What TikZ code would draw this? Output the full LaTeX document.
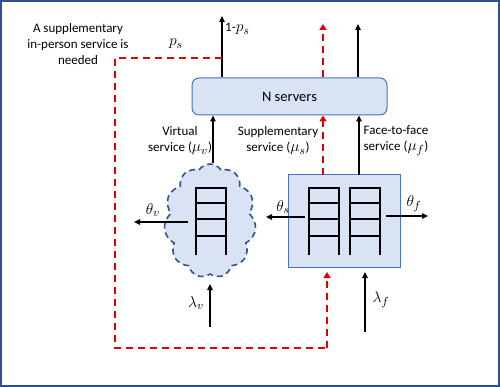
\documentclass[tikz,border=0pt]{standalone}
\usepackage{fontspec}
\setmainfont{Carlito}
\usetikzlibrary{arrows.meta,shapes.symbols}
\definecolor{boxfill}{HTML}{DAE3F3}
\definecolor{boxline}{HTML}{4472C4}
\definecolor{frameblue}{HTML}{2F528F}
\definecolor{cloudline}{HTML}{2F5597}
\definecolor{fbred}{HTML}{E00000}
\newcommand{\mbig}[1]{\scalebox{1.3}{$#1$}}
\tikzset{
  arr/.style={line width=1.3pt,-{Triangle[width=5.5pt,length=6pt]}},
  redarr/.style={line width=2pt,fbred,dash pattern=on 7pt off 5pt,-{Triangle[width=7pt,length=6pt]}},
  redline/.style={line width=2pt,fbred,dash pattern=on 7pt off 5pt},
  serverbox/.style={draw=boxline,fill=boxfill,line width=1pt,rounded corners=7pt,minimum width=195pt,minimum height=37pt,inner sep=0pt,font=\fontsize{14.5}{17}\selectfont},
  sqbox/.style={draw=boxline,fill=boxfill,line width=1pt,minimum width=112pt,minimum height=92pt,inner sep=0pt},
  cloudq/.style={cloud,cloud puffs=11,cloud puff arc=115,draw=cloudline,fill=boxfill,line width=1.6pt,dash pattern=on 6pt off 4pt,minimum width=92pt,minimum height=114pt,inner sep=0pt,aspect=0.8},
  lbl/.style={font=\fontsize{13}{16}\selectfont,align=center,inner sep=0pt},
  mlbl/.style={font=\fontsize{13}{16}\selectfont,inner sep=0pt},
  queue/.pic={\draw[line width=1.8pt] (0,67) -- (0,0) -- (30,0) -- (30,67);
    \draw[line width=1.8pt] (0,15) -- (30,15) (0,31) -- (30,31) (0,48) -- (30,48);}
}
\begin{document}
\begin{tikzpicture}[x=1pt,y=-1pt]
\useasboundingbox (0,0) rectangle (500,387);
\draw[frameblue,line width=2pt] (1,1) rectangle (499,386);

% shapes
\node[serverbox] (srv) at (289.5,96.5) {N servers};
\node[sqbox] (sq) at (344,221) {};
\node[cloudq] (cl) at (210,221) {};

% queues
\pic at (196,188) {queue};
\pic at (309,188) {queue};
\pic at (350,188) {queue};

% coordinates
\coordinate (o1) at (222,16);
\coordinate (o2) at (323,24);
\coordinate (o3) at (358,24);
\coordinate (vin) at (213,163);
\coordinate (sin) at (323,175);
\coordinate (fin) at (359,175);
\coordinate (r1) at (115,58);
\coordinate (r2) at (115,348);
\coordinate (r3) at (327,348);
\coordinate (r4) at (327,272);
\coordinate (lv0) at (210,327);
\coordinate (lv1) at (210,284);
\coordinate (lf0) at (365,332);
\coordinate (lf1) at (365,272);
\coordinate (tv0) at (188,222);
\coordinate (tv1) at (134,222);
\coordinate (ts0) at (305,217);
\coordinate (ts1) at (266,217);
\coordinate (tf0) at (386,216);
\coordinate (tf1) at (428,216);

% outputs of servers
\draw[arr] (srv.north -| o1) -- (o1);
\draw[redarr] (srv.north -| o2) -- (o2);
\draw[arr] (srv.north -| o3) -- (o3);

% inputs of servers
\draw[arr] (vin) -- (vin |- srv.south);
\draw[redarr] (sin) -- (sin |- srv.south);
\draw[arr] (fin) -- (fin |- srv.south);

% feedback loop
\draw[redline] (r1 -| o1) -- (r1) -- (r2) -- (r3);
\draw[redarr] (r3) -- (r4);

% arrivals and abandonment
\draw[arr] (lv0) -- (lv1);
\draw[arr] (lf0) -- (lf1);
\draw[arr] (tv0) -- (tv1);
\draw[arr] (ts0) -- (ts1);
\draw[arr] (tf0) -- (tf1);

% labels
\node[lbl] (ltxt) at (78,44) {A supplementary\\in-person service is\\needed};
\node[mlbl] (lps) at (176,44) {\mbig{p_s}};
\node[mlbl,anchor=west] (l1ps) at (225,29) {1-\mbig{p_s}};
\node[lbl] (lvs) at (180,141) {Virtual\\service (\mbig{\mu_v})};
\node[lbl] (lss) at (278,141) {Supplementary\\service (\mbig{\mu_s})};
\node[lbl] (lfs) at (396,141) {Face-to-face\\service (\mbig{\mu_f})};
\node[mlbl] (ltv) at (153,210) {\mbig{\theta_v}};
\node[mlbl] (lts) at (283,207) {\mbig{\theta_s}};
\node[mlbl] (ltf) at (414,204) {\mbig{\theta_f}};
\node[mlbl] (llv) at (196,303) {\mbig{\lambda_v}};
\node[mlbl] (llf) at (381,300) {\mbig{\lambda_f}};
\end{tikzpicture}
\end{document}
